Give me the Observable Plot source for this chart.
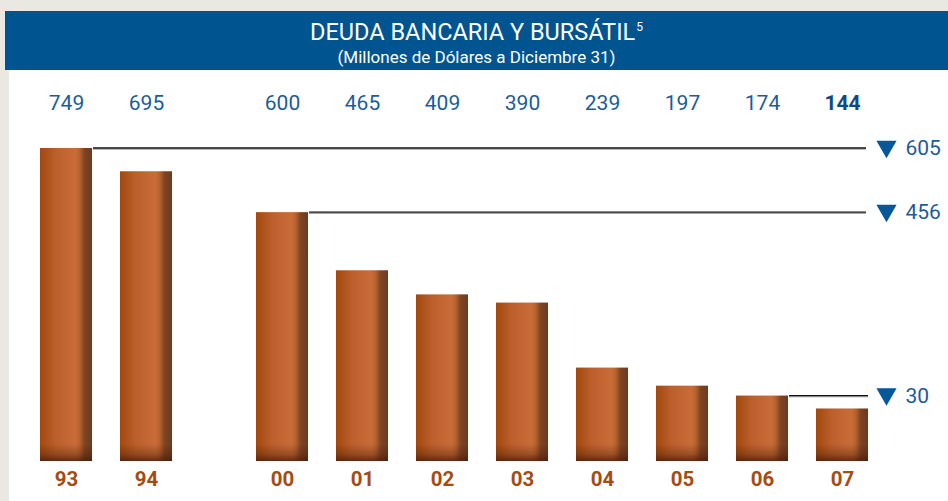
<!DOCTYPE html>
<html>
<head>
<meta charset="utf-8">
<script src="https://cdn.jsdelivr.net/npm/d3@7"></script>
<script src="https://cdn.jsdelivr.net/npm/@observablehq/plot@0.6"></script>
<style>
  html, body { margin: 0; padding: 0; }
  body { width: 948px; height: 501px; background: #e9e8e2; position: relative; overflow: hidden; font-family: Roboto, "Noto Sans", sans-serif; }
  #header { position: absolute; left: 5px; top: 11px; width: 943px; height: 59px; background: #00548f; color: #fff; text-align: center; }
  #title { position: absolute; left: 0; right: 0; top: 7px; font-size: 23.5px; line-height: 28px; letter-spacing: 0px; }
  #title sup { font-size: 12px; vertical-align: top; position: relative; top: -5px; margin-left: 1px; }
  #subtitle { position: absolute; left: 0; right: 0; top: 37px; font-size: 17px; line-height: 19px; letter-spacing: 0px; }
  #panel { position: absolute; left: 9px; top: 70px; width: 939px; height: 431px; background: #fff; }
</style>
</head>
<body>
<div id="header">
  <div id="title">DEUDA BANCARIA Y BURSÁTIL<sup>5</sup></div>
  <div id="subtitle">(Millones de Dólares a Diciembre 31)</div>
</div>
<div id="panel"></div>
<script>
// ---- data ----
const years = ["93", "94", "00", "01", "02", "03", "04", "05", "06", "07"];
const values = [749, 695, 600, 465, 409, 390, 239, 197, 174, 144];
const earlyYears = ["93", "94"];            // shown before the gap
const refFrom = ["93", "00", "06"];         // bar whose top the reduction line starts from
const refLabels = [605, 456, 30];           // reduction vs 2007

// ---- derived tables ----
const data = years.map((y, i) => ({year: y, value: values[i], early: earlyYears.includes(y)}));
const refs = refFrom.map((f, i) => ({from: f, value: values[years.indexOf(f)], label: refLabels[i], early: earlyYears.includes(f)}));
const domainX = [...earlyYears, "", ...years.filter(y => !earlyYears.includes(y))];

const earlyShift = 24;     // the gap between 94 and 00 is narrower than a full slot
const blue = "#1b5c9b";
const brown = "#a44c14";
const font = "Roboto, 'Noto Sans', sans-serif";

const early = data.filter(d => d.early);
const late = data.filter(d => !d.early);

const defs = () => {
  const g = d3.create("svg:defs");
  const h = g.append("linearGradient").attr("id", "barGrad").attr("x1", 0).attr("x2", 1).attr("y1", 0).attr("y2", 0);
  [[0, "#a3480f"], [0.3, "#bb5f2c"], [0.68, "#c96c38"], [0.76, "#b8622f"], [0.86, "#7e4322"], [1, "#6c3a1f"]]
    .forEach(([o, c]) => h.append("stop").attr("offset", o).attr("stop-color", c));
  const v = g.append("linearGradient").attr("id", "shade").attr("gradientUnits", "userSpaceOnUse")
    .attr("x1", 0).attr("x2", 0).attr("y1", 374).attr("y2", 391);
  [[0, "rgba(70,30,8,0)"], [0.6, "rgba(70,30,8,0.35)"], [1, "rgba(70,30,8,0.8)"]]
    .forEach(([o, c]) => v.append("stop").attr("offset", o).attr("stop-color", c));
  return g.node();
};

const refLines = (index, scales, values, dims) => {
  const x = scales.x, y = scales.y;
  const bw = x.bandwidth ? x.bandwidth() : 52;
  const right = dims.width - dims.marginRight;
  const g = d3.create("svg:g");
  refs.forEach((r, i) => {
    const x1 = x(r.from) + bw + (r.early ? earlyShift : 0) + 1;
    const x2 = right - (i === refs.length - 1 ? 0 : 2);
    const yy = y(r.value);
    g.append("line").attr("x1", x1).attr("x2", x2).attr("y1", yy + 1.2).attr("y2", yy + 1.2)
      .attr("stroke", "#999").attr("stroke-width", 1);
    g.append("line").attr("x1", x1).attr("x2", x2).attr("y1", yy).attr("y2", yy)
      .attr("stroke", "#111").attr("stroke-width", 1.3);
  });
  return g.node();
};

const valueText = (arr, opts) => Plot.text(arr, {x: "year", text: d => String(d.value), frameAnchor: "top",
  lineAnchor: "middle", dy: -45, fill: blue, fontSize: 21, fontFamily: font, fontWeight: 400, ...opts});
const yearText = (arr, opts) => Plot.text(arr, {x: "year", text: "year", frameAnchor: "bottom",
  lineAnchor: "middle", dy: 18, fill: brown, fontSize: 20.5, fontFamily: font, fontWeight: 700, ...opts});
const bars = (arr, opts) => [
  Plot.barY(arr, {x: "year", y: "value", fill: "url(#barGrad)", clip: true, ...opts}),
  Plot.barY(arr, {x: "year", y: "value", fill: "url(#shade)", clip: true, ...opts})
];

const chart = Plot.plot({
  width: 939,
  height: 431,
  marginLeft: 7,
  marginRight: 80,
  marginTop: 78,
  marginBottom: 40,
  style: {background: "transparent", overflow: "visible"},
  x: {type: "band", domain: domainX, paddingInner: 0.35, paddingOuter: 0, axis: null},
  y: {domain: [22, 749], axis: null},
  marks: [
    defs,
    ...bars(early, {dx: earlyShift}),
    ...bars(late, {}),
    valueText(early, {dx: earlyShift}),
    valueText(late.slice(0, -1), {}),
    valueText(late.slice(-1), {fill: "#0e4a86", fontWeight: 700}),
    yearText(early, {dx: earlyShift}),
    yearText(late, {}),
    refLines,
    Plot.dot(refs, {y: "value", frameAnchor: "right", dx: 18, dy: -2, symbol: "triangle", rotate: 180,
      r: 7.5, fill: "#07589a", stroke: "none"}),
    Plot.text(refs, {y: "value", text: d => String(d.label), frameAnchor: "right", dx: 37, textAnchor: "start",
      lineAnchor: "middle", fill: blue, fontSize: 21, fontFamily: font, fontWeight: 400})
  ]
});
document.getElementById("panel").appendChild(chart);
</script>
</body>
</html>
